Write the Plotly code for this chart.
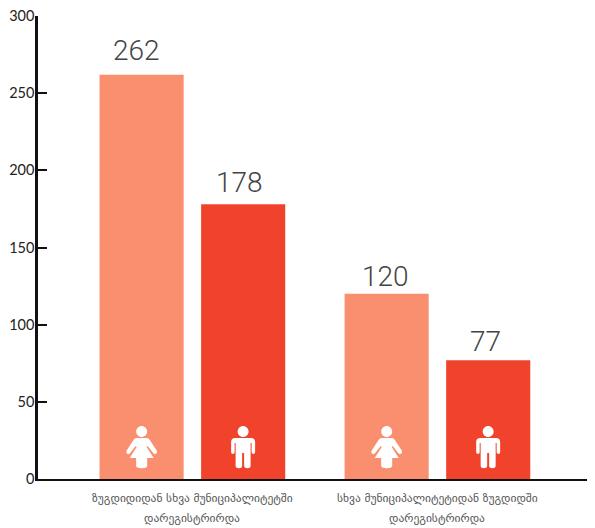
import plotly.graph_objects as go

categories = ['ზუგდიდიდან სხვა მუნიციპალიტეტში', 'სხვა მუნიციპალიტეტიდან ზუგდიდში']
second_line = ['დარეგისტრირდა', 'დარეგისტრირდა']
women = [262, 120]
men = [178, 77]
y_ticks = [0, 50, 100, 150, 200, 250, 300]

# the page keeps an 8px body margin, so the figure is 8px smaller than the window
width = 587
height = 520

woman_color = '#F98F6F'
man_color = '#F1432B'
label_color = '#555555'

# icon outlines in pixels, relative to the bottom centre of the bar
head = 'M 0 53 C 3 53 5.5 50.5 5.5 47.5 C 5.5 44.5 3 42 0 42 C -3 42 -5.5 44.5 -5.5 47.5 C -5.5 50.5 -3 53 0 53 Z '
woman_icon = head + ('M -5 41 L 5 41 C 6.5 41 7.5 40 8.5 38.5 L 15 28.5 C 16.5 25.5 13 23.5 11.5 26 L 6 33 L 5 32 '
                     'L 12 21 L 5.5 21 L 5.5 13 C 5.5 10 -5.5 10 -5.5 13 L -5.5 21 L -12 21 L -5 32 L -6 33 L -11.5 26 '
                     'C -13 23.5 -16.5 25.5 -15 28.5 L -8.5 38.5 C -7.5 40 -6.5 41 -5 41 Z')
man_icon = head + ('M -8 41 L 8 41 C 10.5 41 12 39.5 12 37 L 12 27 C 12 24.5 8.5 24.5 8.5 27 L 8.5 36 L 7.5 36 '
                   'L 7.5 13 C 7.5 10 1 10 1 13 L 1 26 L -1 26 L -1 13 C -1 10 -7.5 10 -7.5 13 L -7.5 36 L -8.5 36 '
                   'L -8.5 27 C -8.5 24.5 -12 24.5 -12 27 L -12 37 C -12 39.5 -10.5 41 -8 41 Z')

fig = go.Figure()
fig.add_trace(go.Bar(x=[0, 1], y=women, marker_color=woman_color, marker_line_width=0, name='ქალი'))
fig.add_trace(go.Bar(x=[0, 1], y=men, marker_color=man_color, marker_line_width=0, name='კაცი'))

# bars sit 0.207 of a category either side of the tick; the labels are not evenly placed in the original
groups = [(-0.207, woman_icon, women, [6, -1], [-5, -1]), (0.207, man_icon, men, [3, 0], [-4, -3])]
shapes = []
annotations = []
for i in range(len(categories)):
    for offset, path, values, raises, nudges in groups:
        shapes.append(dict(type='path', path=path, xref='x', yref='y', xsizemode='pixel', ysizemode='pixel',
                           xanchor=i + offset, yanchor=0, fillcolor='white', line_width=0))
        annotations.append(dict(x=i + offset, y=values[i], text=str(values[i]), showarrow=False, yanchor='bottom',
                                yshift=raises[i], xshift=nudges[i],
                                font=dict(family='Roboto', size=28, weight=300, color='#444444')))
    annotations.append(dict(x=i, y=0, xref='x', yref='paper', yshift=-48, text=second_line[i], showarrow=False,
                            yanchor='bottom', font=dict(family='DejaVu Sans', size=11.5, color=label_color)))

fig.update_layout(
    width=width,
    height=height,
    showlegend=False,
    plot_bgcolor='white',
    paper_bgcolor='white',
    margin=dict(l=30, r=0, t=8, b=49),
    barmode='group',
    bargap=0.171,
    bargroupgap=0.172,
    shapes=shapes,
    annotations=annotations,
    xaxis=dict(
        automargin=False,
        range=[-0.63, 1.643],
        tickvals=[0, 1],
        ticktext=categories,
        ticks='',
        showgrid=False,
        showline=True,
        linecolor='#111111',
        linewidth=2,
        tickangle=0,
        ticklabelstandoff=7,
        tickfont=dict(family='DejaVu Sans', size=11.5, color=label_color),
    ),
    yaxis=dict(
        automargin=False,
        range=[0, 300],
        tickvals=y_ticks,
        ticks='inside',
        ticklen=9,
        tickwidth=2,
        tickcolor='#111111',
        ticklabeloverflow='allow',
        ticklabelstandoff=-2,
        showgrid=False,
        zeroline=False,
        showline=True,
        linecolor='#111111',
        linewidth=2.5,
        tickfont=dict(family='Lato', size=14.5, color='#222222'),
    ),
)

fig.write_html("out.html")
